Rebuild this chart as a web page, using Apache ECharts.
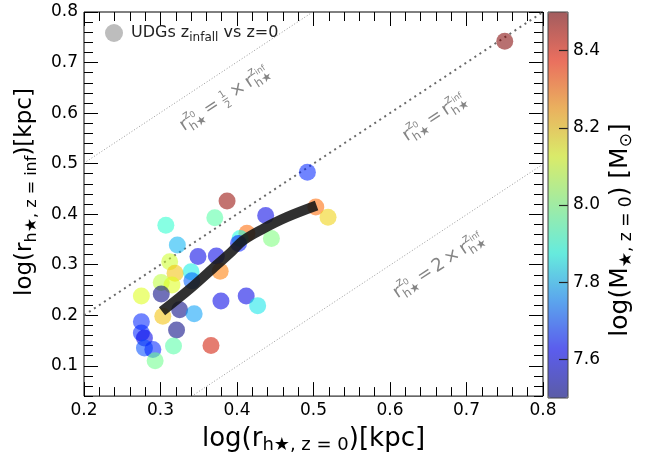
<!DOCTYPE html>
<html><head><meta charset="utf-8">
<script src="https://cdn.jsdelivr.net/npm/echarts@6/dist/echarts.min.js"></script>
<style>html,body{margin:0;padding:0;background:#fff}#c{width:654px;height:459px}</style>
</head><body><div id="c"></div>
<script>
// ---- data ----
const rz0   = [0.750,0.492,0.387,0.371,0.307,0.4375,0.503,0.519,0.413,0.404,0.402,0.445,0.322,0.349,0.373,0.312,0.378,0.340,0.319,0.341,0.301,0.315,0.275,0.301,0.412,0.379,0.427,0.325,0.344,0.303,0.275,0.321,0.275,0.279,0.279,0.290,0.317,0.366,0.293];
const rzinf = [0.742,0.483,0.426,0.393,0.378,0.3975,0.414,0.394,0.362,0.352,0.342,0.352,0.339,0.316,0.317,0.306,0.287,0.286,0.283,0.268,0.265,0.260,0.238,0.242,0.238,0.228,0.219,0.211,0.203,0.198,0.187,0.171,0.165,0.155,0.135,0.132,0.139,0.140,0.110];
const mstar = [8.50,7.66,8.48,7.95,7.90,7.60,8.30,8.18,8.30,7.88,7.65,8.00,7.80,7.60,7.60,8.10,8.28,7.86,8.20,7.72,8.08,8.12,8.12,7.50,7.60,7.60,7.85,7.50,7.78,8.20,7.66,7.50,7.66,7.60,7.70,7.66,7.95,8.42,7.98];
const medianX = [0.302,0.339,0.373,0.393,0.408,0.434,0.465,0.504];
const medianY = [0.208,0.253,0.299,0.326,0.348,0.371,0.394,0.417];
const guideX = [0.2, 0.8];
const guideRatios = [0.5, 1, 2];           // r_z0 = ratio * r_zinf
const xTicks = [0.2,0.3,0.4,0.5,0.6,0.7,0.8];
const yTicks = [0.1,0.2,0.3,0.4,0.5,0.6,0.7,0.8];
const cbTicks = [7.6,7.8,8.0,8.2,8.4];

const FAM = '"DejaVu Sans", sans-serif';
const A = 0.56;
const jetRGB = [[0,0,128],[0,0,255],[0,128,255],[20,255,226],[123,255,123],[226,255,20],[255,151,0],[255,33,0],[128,0,0]];
const jet = jetRGB.map(c => 'rgba(' + c.join(',') + ',' + A + ')');

const mctx = document.createElement('canvas').getContext('2d');
function tw(t, s){ mctx.font = s + 'px ' + FAM; return mctx.measureText(t).width; }
const ANG = Math.atan((386/0.76)/(459/0.6));
const GRAY = '#858585';

function buildFormula(pieces, cx, cy) {
  const kids = [];
  let x = 0;
  const put = (t, s, xx, base) => { kids.push({type:'text', x: xx, y: base - 0.36*s, style:{text:t, fontSize:s, fontFamily:FAM, fill:GRAY, align:'left', verticalAlign:'middle'}}); return tw(t, s); };
  const seq = (list, x0, base) => { let xx = x0; for (const p of list) xx += put(p.t, p.s, xx, base + (p.dy||0)); return xx - x0; };
  for (const p of pieces) {
    const pad = p.pad || 0;
    x += pad;
    if (p.sup) { const w1 = seq(p.sup, x, -9.5); const w2 = seq(p.sub, x, 4); x += Math.max(w1, w2); }
    else if (p.frac) {
      const w = Math.max(tw(p.frac[0], p.s), tw(p.frac[1], p.s));
      put(p.frac[0], p.s, x + (w - tw(p.frac[0], p.s))/2, -7.5);
      put(p.frac[1], p.s, x + (w - tw(p.frac[1], p.s))/2, 4.5);
      kids.push({type:'line', shape:{x1:x, y1:-5.5, x2:x+w, y2:-5.5}, style:{stroke:GRAY, lineWidth:1}});
      x += w;
    }
    else x += put(p.t, p.s, x, 0);
    x += pad;
  }
  kids.forEach(k => { if (k.type === 'line') { k.shape.x1 -= x/2; k.shape.x2 -= x/2; } else k.x -= x/2; });
  const ox = cx + 6*Math.sin(ANG), oy = cy + 6*Math.cos(ANG);
  return {type:'group', x: ox, y: oy, rotation: ANG, children: kids, z: 50};
}
const R = 18, S = 12, SS = 8.5;
const rz0Tok = [{t:'r', s:R}, {sup:[{t:'z', s:S},{t:'0', s:SS, dy:2}], sub:[{t:'h★', s:S}]}];
const rinfTok = [{t:'r', s:R}, {sup:[{t:'z', s:S},{t:'inf', s:SS, dy:2}], sub:[{t:'h★', s:S}]}];
const eq = {t:'=', s:R, pad:3}, times = {t:'×', s:R, pad:3};

const scatterData = rz0.map((x, i) => [x, rzinf[i], mstar[i]]);
const medianData = medianX.map((x, i) => [x, medianY[i]]);
const guideSeries = guideRatios.map(r => ({
  type:'line', xAxisIndex:0, yAxisIndex:0, symbol:'none', silent:true, clip:true, z:1,
  data: guideX.map(x => [x, x - Math.log10(r)]),
  lineStyle: r === 1 ? {color:'#6a6a6a', width:2, type:[2,4]} : {color:'#999', width:1, type:[1,2]}
}));

const chart = echarts.init(document.getElementById('c'), null, {renderer:'canvas'});
const tickStyle = {color:'#000', width:1};
const majorY = (pos, label) => ({
  gridIndex:0, type:'value', position:pos, min:0.04, max:0.8,
  axisLine:{show:false, onZero:false}, splitLine:{show:false},
  axisTick:{show:true, inside:true, length:14, customValues:yTicks, lineStyle:tickStyle},
  axisLabel:{show:label, customValues:yTicks, fontSize:17, fontFamily:FAM, color:'#000', margin:6, formatter:v => v.toFixed(1)}
});
const minorY = pos => ({
  gridIndex:0, type:'value', position:pos, min:0.04, max:0.8, interval:0.02,
  axisLine:{show:false, onZero:false}, splitLine:{show:false},
  axisTick:{show:true, inside:true, length:9, lineStyle:tickStyle}, axisLabel:{show:false}
});
const xAx = (pos, label) => ({
  gridIndex:0, type:'value', position:pos, min:0.2, max:0.8, interval:0.1,
  axisLine:{show:false, onZero:false}, splitLine:{show:false},
  axisTick:{show:true, inside:true, length:14, lineStyle:tickStyle},
  minorTick:{show:true, splitNumber:5, length:9, lineStyle:tickStyle},
  axisLabel:{show:label, fontSize:17, fontFamily:FAM, color:'#000', margin:6, formatter:v => v.toFixed(1)}
});

const xMain = xAx('bottom', true);
Object.assign(xMain, {
  name:'log(r{sub|h★, z = 0})[kpc]', nameLocation:'middle', nameGap:26,
  nameTextStyle:{fontSize:26, fontFamily:FAM, color:'#000', lineHeight:30,
    rich:{sub:{fontSize:18, fontFamily:FAM, color:'#000', verticalAlign:'bottom', lineHeight:18}}}
});
const yMain = majorY('left', true);
Object.assign(yMain, {
  name:'log(r{sub|h★, z = inf})[kpc]', nameLocation:'middle', nameGap:42, nameRotate:90,
  nameTextStyle:{fontSize:23, fontFamily:FAM, color:'#000', lineHeight:30, padding:[0,0,0,24],
    rich:{sub:{fontSize:16, fontFamily:FAM, color:'#000', verticalAlign:'bottom', lineHeight:16}}}
});

const option = {
  animation:false,
  backgroundColor:'#fff',
  grid:[
    {left:84, top:12, width:459, height:386, show:true, borderColor:'#000', borderWidth:1, backgroundColor:'transparent'},
    {left:548, top:12, width:20, height:386, show:false}
  ],
  xAxis:[ xMain, xAx('top', false), {gridIndex:1, type:'value', min:0, max:1, show:false} ],
  yAxis:[ yMain, minorY('left'), majorY('right', false), minorY('right'),
    {gridIndex:1, type:'value', position:'right', min:7.5, max:8.5, z:10,
     axisLine:{show:false, onZero:false}, splitLine:{show:false},
     axisTick:{show:true, inside:true, length:9, customValues:cbTicks, lineStyle:{color:'#222', width:1.2}},
     axisLabel:{customValues:cbTicks, fontSize:17, fontFamily:FAM, color:'#000', margin:5, formatter:v => v.toFixed(1)},
     name:'log(M{sub|★, z = 0}) [M{sub|⊙}]', nameLocation:'middle', nameGap:37, nameRotate:90,
     nameTextStyle:{fontSize:25, fontFamily:FAM, color:'#000', lineHeight:30, padding:[0,50,0,0],
       rich:{sub:{fontSize:17, fontFamily:FAM, color:'#000', verticalAlign:'bottom', lineHeight:17}}}
    }
  ],
  visualMap:{
    type:'continuous', min:7.5, max:8.5, dimension:2, seriesIndex:3, calculable:false, hoverLink:false,
    orient:'vertical', left:548, top:12, itemWidth:20, itemHeight:386, padding:0, text:null,
    inRange:{color:jet}
  },
  legend:{
    left:105, top:22, padding:0, icon:'circle', itemWidth:18, itemHeight:18,
    data:[{name:'UDGs', itemStyle:{color:'#bdbdbd', opacity:1}}],
    formatter:() => 'UDGs z{sub|infall} vs z=0',
    textStyle:{fontSize:16, fontFamily:FAM, color:'#222', lineHeight:22, padding:[0,0,0,3],
      rich:{sub:{fontSize:12, fontFamily:FAM, color:'#222', verticalAlign:'bottom', lineHeight:12}}}
  },
  series:[
    ...guideSeries,
    {name:'UDGs', type:'scatter', xAxisIndex:0, yAxisIndex:0, symbolSize:17, z:2,
     itemStyle:{color:'#bdbdbd', opacity:1}, emphasis:{disabled:true}, data:scatterData},
    {name:'median', type:'line', xAxisIndex:0, yAxisIndex:0, symbol:'none', smooth:0.35, z:3,
     lineStyle:{color:'rgba(20,20,20,0.88)', width:10, cap:'butt'}, emphasis:{disabled:true}, data:medianData}
  ],
  graphic:[
    {type:'rect', shape:{x:548, y:12, width:20, height:386}, style:{fill:'none', stroke:'#444', lineWidth:1}, z:100},
    buildFormula([...rz0Tok, eq, {frac:['1','2'], s:10, pad:2}, times, ...rinfTok], 225, 99),
    buildFormula([...rz0Tok, eq, ...rinfTok], 435, 118),
    buildFormula([...rz0Tok, eq, {t:'2', s:R}, times, ...rinfTok], 439, 266)
  ]
};
chart.setOption(option);
</script>
</body></html>
